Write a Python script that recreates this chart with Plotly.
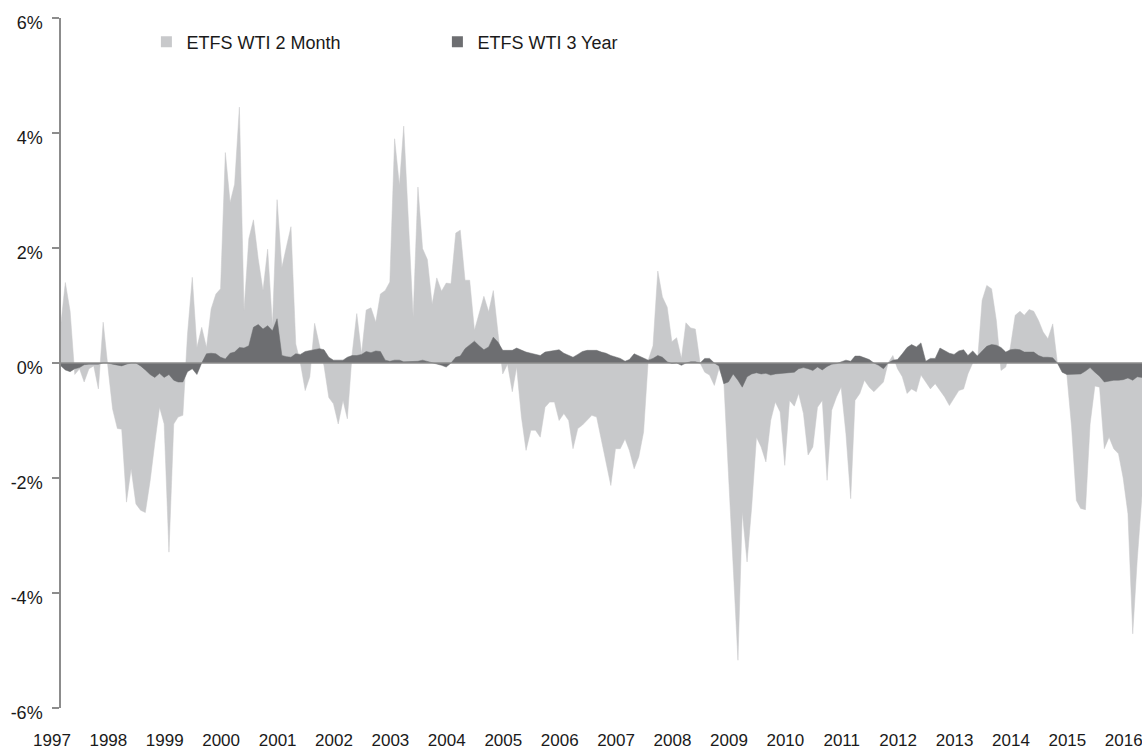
import pandas as pd
import plotly.graph_objects as go

# Monthly roll-yield series (%), Feb 1997 .. Apr 2016
start_month = "1997-02-01"
series_names = ["ETFS WTI 2 Month", "ETFS WTI 3 Year"]

wti_2_month = [
    0.7, 1.4, 0.9, -0.2, -0.1, -0.33, -0.1, -0.05, -0.45, 0.71,
    -0.05, -0.8, -1.14, -1.15, -2.42, -1.84, -2.45, -2.56, -2.6, -2.05,
    -1.4, -0.77, -1.06, -3.29, -1.06, -0.94, -0.91, 0.5, 1.49, 0.27,
    0.62, 0.27, 0.94, 1.2, 1.29, 3.66, 2.79, 3.11, 4.45, 0.91,
    2.16, 2.49, 1.81, 1.26, 1.98, 0.65, 2.84, 1.66, 2.04, 2.37,
    0.33, 0.0, -0.48, -0.24, 0.69, 0.33, -0.05, -0.6, -0.71, -1.06,
    -0.65, -0.97, 0.16, 0.86, 0.16, 0.92, 0.96, 0.71, 1.2, 1.26,
    1.41, 3.9, 3.09, 4.12, 2.4, 0.8, 3.06, 1.99, 1.8, 1.02,
    1.48, 1.25, 1.39, 1.38, 2.26, 2.31, 1.44, 1.44, 0.57, 0.86,
    1.16, 0.89, 1.26, 0.51, -0.19, -0.02, -0.5, -0.07, -0.94, -1.52,
    -1.17, -1.17, -1.29, -0.77, -0.68, -0.68, -1.0, -0.88, -1.0, -1.49,
    -1.14, -1.08, -1.0, -0.91, -0.94, -1.34, -1.69, -2.13, -1.49, -1.49,
    -1.32, -1.52, -1.84, -1.63, -1.2, 0.05, 0.3, 1.6, 1.15, 0.97,
    0.37, 0.44, 0.08, 0.7, 0.61, 0.59, 0.0, -0.16, -0.21, -0.39,
    -0.1, -0.3, -1.9, -3.5, -5.17, -2.59, -3.46, -2.5, -1.29, -1.46,
    -1.72, -1.0, -0.68, -0.85, -1.78, -0.65, -0.75, -0.53, -0.88, -1.6,
    -1.46, -0.77, -0.65, -2.04, -0.82, -0.59, -0.42, -1.23, -2.36, -0.65,
    -0.53, -0.3, -0.42, -0.5, -0.42, -0.33, 0.0, 0.13, -0.1, -0.24,
    -0.53, -0.45, -0.5, -0.21, -0.33, -0.45, -0.36, -0.48, -0.59, -0.74,
    -0.6, -0.48, -0.45, -0.19, 0.0, 0.0, 1.09, 1.35, 1.29, 0.74,
    -0.13, -0.07, 0.28, 0.83, 0.9, 0.83, 0.93, 0.9, 0.74, 0.54,
    0.42, 0.68, 0.0, -0.1, -0.19, -1.11, -2.39, -2.53, -2.55, -1.06,
    -0.4, -0.42, -1.49, -1.29, -1.49, -1.58, -2.0, -2.62, -4.71, -3.43,
    -2.3,
]

wti_3_year = [
    -0.05, -0.12, -0.15, -0.1, -0.08, -0.03, -0.02, -0.02, -0.02, 0.0,
    0.0, -0.02, -0.03, -0.05, -0.02, 0.0, 0.0, -0.05, -0.12, -0.2,
    -0.25, -0.18, -0.25, -0.2, -0.3, -0.33, -0.33, -0.15, -0.1, -0.2,
    0.0, 0.16, 0.17, 0.16, 0.1, 0.07, 0.17, 0.19, 0.27, 0.26,
    0.3, 0.62, 0.67, 0.59, 0.65, 0.56, 0.77, 0.13, 0.11, 0.1,
    0.16, 0.15, 0.2, 0.22, 0.23, 0.25, 0.23, 0.1, 0.05, 0.05,
    0.05, 0.1, 0.13, 0.13, 0.15, 0.2, 0.18, 0.21, 0.2, 0.05,
    0.03, 0.05, 0.05, 0.02, 0.02, 0.02, 0.03, 0.05, 0.03, 0.0,
    -0.02, -0.04, -0.07, 0.0, 0.1, 0.12, 0.25, 0.32, 0.38, 0.3,
    0.23, 0.28, 0.45, 0.36, 0.22, 0.22, 0.22, 0.26, 0.22, 0.19,
    0.17, 0.15, 0.13, 0.19, 0.2, 0.21, 0.23, 0.17, 0.13, 0.1,
    0.15, 0.2, 0.22, 0.22, 0.22, 0.19, 0.17, 0.13, 0.1, 0.08,
    0.03, 0.06, 0.16, 0.12, 0.09, 0.05, 0.08, 0.13, 0.1, 0.02,
    -0.01, 0.0, -0.04, 0.0, 0.02, 0.02, 0.0, 0.08, 0.08, 0.0,
    -0.05, -0.36, -0.33, -0.19, -0.3, -0.42, -0.24, -0.19, -0.17, -0.19,
    -0.18, -0.21, -0.19, -0.18, -0.17, -0.16, -0.16, -0.1, -0.08, -0.1,
    -0.13, -0.07, -0.12, -0.06, -0.02, -0.01, 0.02, 0.05, 0.03, 0.12,
    0.12, 0.09, 0.06, 0.0, -0.04, -0.1, 0.0, 0.05, 0.06, 0.16,
    0.27, 0.32, 0.28, 0.35, 0.03, 0.08, 0.08, 0.26, 0.22, 0.17,
    0.15, 0.21, 0.23, 0.13, 0.21, 0.12, 0.21, 0.29, 0.32, 0.31,
    0.27, 0.19, 0.23, 0.24, 0.23, 0.19, 0.19, 0.19, 0.13, 0.1,
    0.1, 0.09, 0.0, -0.16, -0.2, -0.2, -0.2, -0.19, -0.14, -0.08,
    -0.16, -0.23, -0.33, -0.31, -0.3, -0.3, -0.29, -0.26, -0.3, -0.24,
    -0.25,
]

year_labels = [str(y) for y in range(1997, 2017)]
y_tick_values = [-6, -4, -2, 0, 2, 4, 6]
y_tick_labels = ["-6%", "-4%", "-2%", "0%", "2%", "4%", "6%"]

LIGHT = "#C8C9CB"
DARK = "#6D6E71"
AXIS = "#8C8C8C"
TEXT = "#1A1A1A"
FONT = "Liberation Sans, Arial, sans-serif"

dates = pd.date_range(start_month, periods=len(wti_2_month), freq="MS")
year_ticks = [pd.Timestamp(f"{y}-02-01") for y in year_labels]

fig = go.Figure()
for name, vals, col in [(series_names[0], wti_2_month, LIGHT),
                        (series_names[1], wti_3_year, DARK)]:
    fig.add_trace(go.Scatter(
        x=dates, y=vals, mode="lines", fill="tozeroy",
        line=dict(color=col, width=0.5), fillcolor=col,
        showlegend=False, hoverinfo="x+y", name=name))
# legend entries (square swatches)
for name, col in [(series_names[0], LIGHT), (series_names[1], DARK)]:
    fig.add_trace(go.Scatter(
        x=[None], y=[None], mode="markers", name=name,
        marker=dict(symbol="square", size=11, color=col)))

fig.add_shape(type="line", xref="paper", x0=0, x1=1, yref="y", y0=0, y1=0,
              line=dict(color=AXIS, width=1.5), layer="above")

fig.update_layout(
    width=1142, height=751,
    margin=dict(l=61, r=0, t=18, b=43, autoexpand=False),
    paper_bgcolor="white", plot_bgcolor="white",
    font=dict(family=FONT, size=18, color=TEXT),
    legend=dict(orientation="h", x=0.079, y=0.965, xanchor="left", yanchor="middle",
                entrywidth=246, entrywidthmode="pixels",
                font=dict(family=FONT, size=18, color=TEXT),
                bgcolor="rgba(0,0,0,0)", itemclick=False),
    xaxis=dict(range=[dates[0], dates[-1]], showgrid=False, zeroline=False,
               showline=False, ticks="", tickvals=year_ticks, ticktext=year_labels,
               tickfont=dict(family=FONT, size=17, color=TEXT), automargin=False,
               ticklabelshift=-9, ticklabelstandoff=20, ticklabeloverflow="allow"),
    yaxis=dict(range=[-6, 6], tickvals=y_tick_values, ticktext=y_tick_labels,
               showgrid=False, zeroline=False, showline=True, linecolor=AXIS,
               linewidth=1.5, ticks="outside", ticklen=7, tickcolor=AXIS,
               tickwidth=1.5, layer="above traces", automargin=False,
               tickfont=dict(family=FONT, size=18, color=TEXT),
               ticklabelstandoff=6, ticklabelshift=5, ticklabeloverflow="allow"),
)

fig.write_html("out.html", config={"displayModeBar": False},
               post_script="document.body.style.margin='0';document.body.style.overflow='hidden';")
